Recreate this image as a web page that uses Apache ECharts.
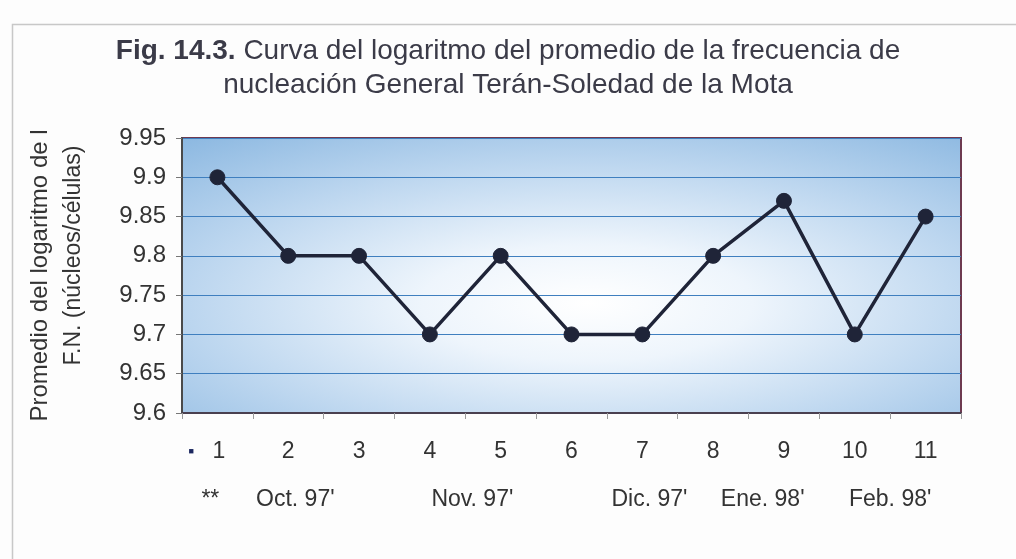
<!DOCTYPE html>
<html><head><meta charset="utf-8">
<script src="https://cdn.jsdelivr.net/npm/echarts@6/dist/echarts.min.js"></script>
<style>html,body{margin:0;padding:0;background:#fdfdfd;}#c{width:1016px;height:559px;}</style>
</head><body><div id="c"></div>
<script>
var categories = ['1','2','3','4','5','6','7','8','9','10','11'];
var values = [9.9, 9.8, 9.8, 9.7, 9.8, 9.7, 9.7, 9.8, 9.87, 9.7, 9.85];
var monthPositions = [0.9, 2.1, 4.6, 7.1, 8.7, 10.5];
var monthLabels = ['**', "Oct. 97'", "Nov. 97'", "Dic. 97'", "Ene. 98'", "Feb. 98'"];
var yMin = 9.6, yMax = 9.95, yStep = 0.05;

var monthMap = {};
monthPositions.forEach(function(p, i){ monthMap[p.toFixed(1)] = monthLabels[i]; });
var FONT = 'Liberation Sans, Arial, sans-serif';

var chart = echarts.init(document.getElementById('c'));
chart.setOption({
  backgroundColor: '#fdfdfd',
  animation: false,
  title: {
    text: '{b|Fig. 14.3.} Curva del logaritmo del promedio de la frecuencia de\nnucleación General Terán-Soledad de la Mota',
    left: 'center', top: 29,
    textStyle: {
      fontFamily: FONT, fontSize: 28, fontWeight: 'normal',
      color: '#3b3b48', lineHeight: 34,
      rich: { b: { fontFamily: FONT, fontSize: 28, fontWeight: 'bold', color: '#3b3b48', lineHeight: 34 } }
    }
  },
  grid: {
    left: 182, right: 55, top: 138, bottom: 146, show: true,
    outerBoundsMode: 'none', containLabel: false,
    borderColor: '#6e3a50', borderWidth: 2,
    backgroundColor: 'transparent'
  },
  xAxis: [{
    type: 'category', data: categories, boundaryGap: true, position: 'bottom',
    axisLine: { lineStyle: { color: '#4a4050', width: 2 } },
    axisTick: { show: true, length: 6, interval: 0, lineStyle: { color: '#9a9a9a' } },
    axisLabel: {
      interval: 0, margin: 27, color: '#333', fontFamily: FONT, fontSize: 23,
      formatter: function(v, i){ return i === 0 ? '{d|■}' + v + '{s|}' : v; },
      rich: {
        d: { width: 24, align: 'left', fontSize: 9, color: '#1c2860', verticalAlign: 'middle', padding: [0, 0, 0, 3] },
        s: { width: 24 }
      }
    },
    splitLine: { show: false }
  }, {
    type: 'value', min: 0.5, max: 11.5, interval: 0.1, position: 'bottom', offset: 67,
    axisLine: { show: false }, axisTick: { show: false }, splitLine: { show: false },
    axisLabel: {
      margin: 8, color: '#333', fontFamily: FONT, fontSize: 23, hideOverlap: false,
      showMinLabel: true, showMaxLabel: true,
      formatter: function(v){ var k = (Math.round(v * 10) / 10).toFixed(1); return monthMap[k] || ''; }
    }
  }],
  yAxis: {
    type: 'value', min: yMin, max: yMax, interval: yStep,
    name: 'Promedio del logaritmo de l\n{p|F.N. (núcleos/células)}',
    nameLocation: 'middle', nameRotate: 90, nameGap: 92, nameMoveOverlap: false,
    nameTextStyle: {
      color: '#333', fontFamily: FONT, fontSize: 24, lineHeight: 33,
      rich: { p: { color: '#333', fontFamily: FONT, fontSize: 23, lineHeight: 33, padding: [0, 0, 0, 40] } }
    },
    axisLine: { show: true, lineStyle: { color: '#4a4a4a', width: 2 } },
    axisTick: { show: true, length: 6, lineStyle: { color: '#777' } },
    axisLabel: {
      margin: 16, color: '#333', fontFamily: FONT, fontSize: 24,
      formatter: function(v){ return String(parseFloat(v.toFixed(2))); }
    },
    splitLine: { show: true, lineStyle: { color: '#3f7fbf', width: 1.2 } }
  },
  series: [{
    type: 'line', data: values, xAxisIndex: 0,
    symbol: 'circle', symbolSize: 15,
    lineStyle: { color: '#1f2438', width: 3.5 },
    itemStyle: { color: '#1f2438', borderColor: '#1f2438' }
  }]
});

// Elliptical background glow fitted to the plotting rectangle computed by the library
var rect = chart.getModel().getComponent('grid').coordinateSystem.getRect();
chart.setOption({
  graphic: [{
    type: 'rect', z: -10, silent: true,
    x: rect.x, y: rect.y, scaleX: rect.width / rect.height, scaleY: 1,
    shape: { x: 0, y: 0, width: rect.height, height: rect.height },
    style: {
      fill: new echarts.graphic.RadialGradient(0.52, 0.6, 0.85, [
        { offset: 0, color: '#ffffff' },
        { offset: 0.25, color: '#eef5fc' },
        { offset: 0.6, color: '#bcd6ef' },
        { offset: 1, color: '#82b2de' }
      ])
    }
  }, {
    type: 'rect', z: -10, silent: true,
    left: 10, top: 22,
    shape: { width: 1010, height: 560 },
    style: { fill: 'none', stroke: '#c8c8c8', lineWidth: 1.5 }
  }]
});
</script></body></html>
